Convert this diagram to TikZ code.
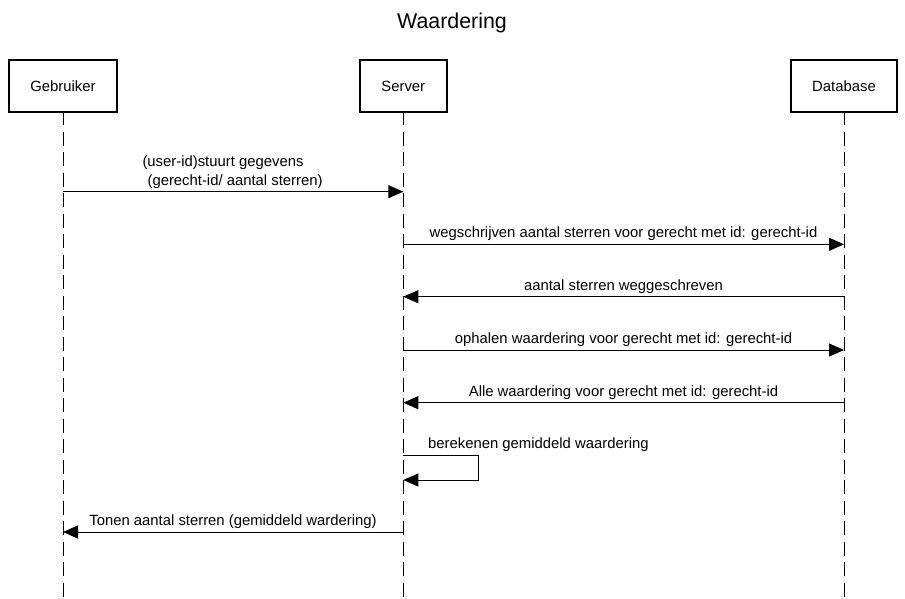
\documentclass[tikz,border=0pt]{standalone}
\usepackage{fontspec}
\setmainfont{Liberation Sans}
\usetikzlibrary{arrows.meta}
\begin{document}
\begin{tikzpicture}[x=1pt,y=-1pt,
  actor/.style={draw=black, line width=2.5pt, fill=white, minimum height=52pt, inner sep=0pt, font=\fontsize{14.85}{17}\selectfont},
  lifeline/.style={draw=black, line width=1pt, dash pattern=on 14pt off 6.5pt},
  msg/.style={draw=black, line width=1pt, -{Triangle[length=15pt,width=13pt]}},
  lbl/.style={anchor=base, inner sep=0pt, font=\fontsize{14.85}{17}\selectfont}
]
\useasboundingbox (0,0) rectangle (905,598);
\fill[white] (0,0) rectangle (905,598);

\node[anchor=base, inner sep=0pt, font=\fontsize{21.4}{25}\selectfont] (title) at (452,28.3) {Waardering};

% lifeline bottoms
\coordinate (gb) at (63,598);
\coordinate (sb) at (403.3,598);
\coordinate (db) at (844,598);

% lifelines (drawn first, boxes on top)
\draw[lifeline] (63,111) -- (gb);
\draw[lifeline] (403.3,111) -- (sb);
\draw[lifeline] (844,111) -- (db);

\node[actor, minimum width=108pt] (geb) at (63,86) {Gebruiker};
\node[actor, minimum width=87pt] (srv) at (403.3,86) {Server};
\node[actor, minimum width=106pt] (dbs) at (844,86) {Database};

% message anchor points
\coordinate (g1) at (63,191.7);   \coordinate (s1) at (403.3,191.7);
\coordinate (s2) at (403.3,244.3); \coordinate (d2) at (844,244.3);
\coordinate (d3) at (844,296.7);  \coordinate (s3) at (403.3,296.7);
\coordinate (s4) at (403.3,350);  \coordinate (d4) at (844,350);
\coordinate (d5) at (844,402.7);  \coordinate (s5) at (403.3,402.7);
\coordinate (s6a) at (403.3,455.5); \coordinate (s6r) at (478.3,455.5);
\coordinate (s6b) at (403.3,480);
\coordinate (s7) at (403.3,532);  \coordinate (g7) at (63,532);

% messages
\draw[msg] (g1) -- (s1);
\node[lbl] (m1a) at (223,166.7) {(user-id)stuurt gegevens};
\node[lbl] (m1b) at (233,185) {\ (gerecht-id/ aantal sterren)};

\draw[msg] (s2) -- (d2);
\node[lbl] (m2) at (623.5,237.7) {wegschrijven aantal sterren voor gerecht met id: gerecht-id};

\draw[msg] (d3) -- (s3);
\node[lbl] (m3) at (623.5,290) {aantal sterren weggeschreven};

\draw[msg] (s4) -- (d4);
\node[lbl] (m4) at (623.5,343.3) {ophalen waardering voor gerecht met id: gerecht-id};

\draw[msg] (d5) -- (s5);
\node[lbl] (m5) at (623.5,396) {Alle waardering voor gerecht met id: gerecht-id};

\draw[msg] (s6a) -- (s6r) |- (s6b);
\node[lbl, anchor=base west] (m6) at (428,448.3) {berekenen gemiddeld waardering};

\draw[msg] (s7) -- (g7);
\node[lbl] (m7) at (233,525.5) {Tonen aantal sterren (gemiddeld wardering)};
\end{tikzpicture}
\end{document}
